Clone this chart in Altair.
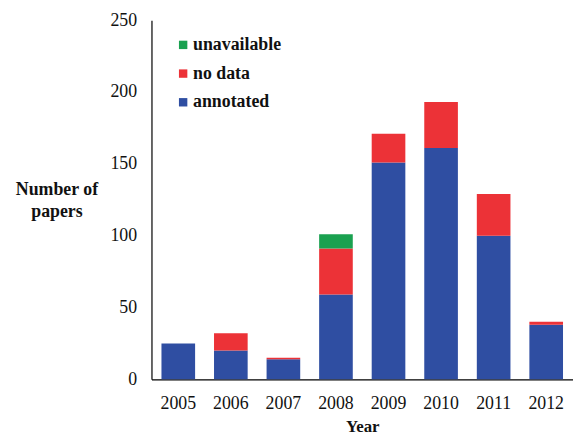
import altair as alt
import pandas as pd

years = ["2005", "2006", "2007", "2008", "2009", "2010", "2011", "2012"]
annotated = [25, 20, 14, 59, 151, 161, 100, 38]
no_data = [0, 12, 1, 32, 20, 32, 29, 2]
unavailable = [0, 0, 0, 10, 0, 0, 0, 0]

categories = ["unavailable", "no data", "annotated"]
colors = ["#1aa150", "#ec3237", "#2f4ea2"]
stack_rank = {"annotated": 0, "no data": 1, "unavailable": 2}

rows = []
for i, y in enumerate(years):
    for cat, vals in (("annotated", annotated), ("no data", no_data), ("unavailable", unavailable)):
        rows.append({"Year": y, "Status": cat, "Papers": vals[i], "rank": stack_rank[cat]})
df = pd.DataFrame(rows)

FONT = "Times New Roman, Liberation Serif, DejaVu Serif, serif"

chart = alt.Chart(df).mark_bar().encode(
    x=alt.X("Year:N", sort=years,
            scale=alt.Scale(paddingInner=0.36, paddingOuter=0.19),
            axis=alt.Axis(title="Year", labelAngle=0, labelFontSize=18, labelFont=FONT,
                          labelColor="#111", labelPadding=15, ticks=False,
                          domainColor="#000", domainWidth=1.2,
                          titleFont=FONT, titleFontSize=17, titleFontWeight="bold",
                          titleColor="#111", titleY=53, titleBaseline="alphabetic")),
    y=alt.Y("Papers:Q", stack="zero",
            scale=alt.Scale(domain=[0, 250], nice=False),
            axis=alt.Axis(values=[0, 50, 100, 150, 200, 250], grid=False, ticks=False,
                          labelFontSize=18, labelFont=FONT, labelColor="#111", labelPadding=15,
                          domainColor="#000", domainWidth=1.2,
                          title=["Number of", "papers"], titleAngle=0, titleAlign="center",
                          titleFont=FONT, titleFontSize=18, titleFontWeight="bold",
                          titleColor="#111", titleX=-96, titleY=176,
                          titleBaseline="alphabetic", titleLineHeight=22)),
    color=alt.Color("Status:N",
                    scale=alt.Scale(domain=categories, range=colors),
                    legend=alt.Legend(title=None, orient="none", legendX=23, legendY=16,
                                      symbolType="square", symbolSize=72, symbolStrokeWidth=0,
                                      labelFont=FONT, labelFontSize=18, labelFontWeight="bold",
                                      labelColor="#111", rowPadding=11, labelOffset=1)),
    order=alt.Order("rank:Q", sort="ascending"),
).properties(
    width=426, height=363,
    autosize=alt.AutoSizeParams(type="none"),
    padding={"left": 145, "top": 10, "right": 0, "bottom": 57},
).configure_view(stroke=None)

chart.save("out.html", embed_options={"renderer": "svg", "actions": False})
